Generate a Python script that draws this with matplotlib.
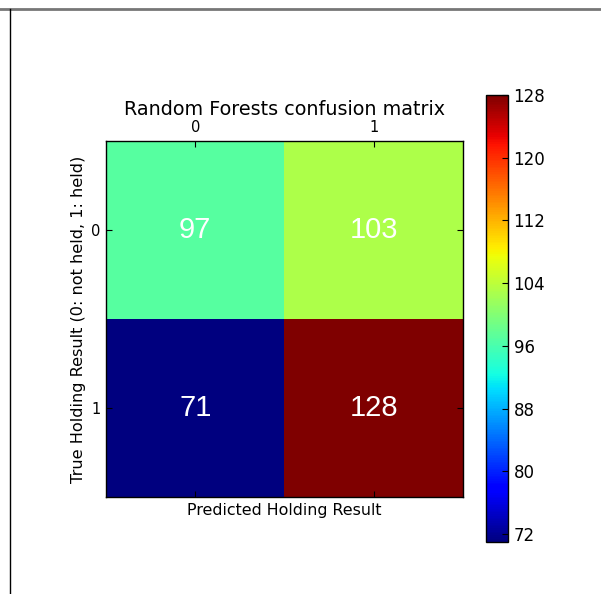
import matplotlib
matplotlib.use("Agg")
import matplotlib.pyplot as plt
import numpy as np
from matplotlib.lines import Line2D

# confusion matrix values (rows: true, cols: predicted)
conf_values = [[97, 103],
               [71, 128]]
class_labels = ["0", "1"]
cbar_ticks = [72, 80, 88, 96, 104, 112, 120, 128]

plt.rcParams["font.family"] = ["DejaVu Sans"]

fig = plt.figure(figsize=(6.01, 5.94), dpi=100)
fig.patch.set_facecolor("white")

# notebook frame lines
fig.add_artist(Line2D([0, 1], [1 - 8.5 / 594, 1 - 8.5 / 594], transform=fig.transFigure,
                      color="#777777", lw=2))
fig.add_artist(Line2D([10.5 / 601, 10.5 / 601], [0, 1 - 9 / 594], transform=fig.transFigure,
                      color="black", lw=1))

ax = fig.add_axes([106 / 601, 1 - 497 / 594, 357 / 601, 356 / 594])
cax = fig.add_axes([486 / 601, 1 - 542 / 594, 22 / 601, 447 / 594])

mat = np.array(conf_values)
im = ax.matshow(mat, cmap="jet", vmin=71, vmax=128, aspect="auto")

for i in range(mat.shape[0]):
    for j in range(mat.shape[1]):
        ax.text(j, i, str(mat[i, j]), ha="center", va="center", color="white",
                fontsize=21, family=["Liberation Sans", "DejaVu Sans"])

ax.set_xticks(range(len(class_labels)))
ax.set_yticks(range(len(class_labels)))
ax.set_xticklabels(class_labels, fontsize=10.5)
ax.set_yticklabels(class_labels, fontsize=10.5)
ax.tick_params(direction="in", top=True, bottom=True, left=True, right=True,
               labeltop=True, labelbottom=False, length=4, width=0.8, pad=4)
ax.set_title("Random Forests confusion matrix", fontsize=13.8, pad=19)
ax.set_xlabel("Predicted Holding Result", fontsize=11.4)
ax.set_ylabel("True Holding Result (0: not held, 1: held)", fontsize=11.6, labelpad=4)
for sp in ax.spines.values():
    sp.set_linewidth(1)

cb = fig.colorbar(im, cax=cax, ticks=cbar_ticks)
cb.ax.tick_params(direction="in", length=4, width=0.8, labelsize=12, pad=4)
cb.outline.set_linewidth(1)

fig.savefig("out.png", dpi=100)
